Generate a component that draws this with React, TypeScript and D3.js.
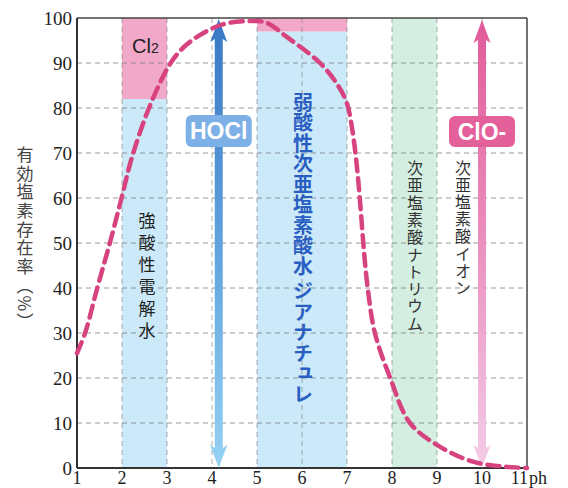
import React from "react";
import * as d3 from "d3";

// ---- data ----
const xTicks = [1, 2, 3, 4, 5, 6, 7, 8, 9, 10, 11];
const yTicks = [0, 10, 20, 30, 40, 50, 60, 70, 80, 90, 100];

const curvePh = [1, 1.18, 1.45, 1.73, 1.99, 2.22, 2.6, 3.05, 3.35, 3.73, 4.24, 4.8, 5.2, 5.66, 6.4, 6.8, 7.0, 7.12, 7.22, 7.3, 7.37, 7.46, 7.62, 7.96, 8.4, 9.07, 9.8, 10.5, 11];
const curveRate = [25.5, 30, 40, 50, 60, 69, 80, 89.5, 93.3, 96.2, 98.6, 99.3, 99.0, 95.8, 90, 85, 81, 75, 67, 58, 49, 40, 30, 20, 10, 4.7, 1.4, 0.3, 0];

// bands: [phStart, phEnd, rateBottom, rateTop, kind]
const bandStart = [2, 2, 5, 5, 8];
const bandEnd = [3, 3, 7, 7, 9];
const bandBottom = [0, 82, 0, 97, 0];
const bandTop = [82, 100, 97, 100, 100];
const bandKind = ["blue", "pink", "blue", "pink", "green"];

const hoclPh = 4.15;
const cloPh = 10;

const yTitle = "有効塩素存在率（%）";
const labelStrong = "強酸性電解水";
const labelWeak = "弱酸性次亜塩素酸水 ジアナチュレ";
const labelNa = "次亜塩素酸ナトリウム";
const labelIon = "次亜塩素酸イオン";

// ---- layout ----
const W = 568;
const H = 488;
const x = d3.scaleLinear().domain([1, 11]).range([77, 527]);
const y = d3.scaleLinear().domain([0, 100]).range([468, 18]);

const bandColors: Record<string, string> = {
  blue: "#cbe9f8",
  pink: "#f2a9c9",
  green: "#d4efe1",
};

const jp = "'Noto Sans CJK JP', 'Noto Sans', sans-serif";
const serif = "'Liberation Serif', 'DejaVu Serif', serif";
const sans = "'Liberation Sans', Arial, sans-serif";

function arrowPath(cx: number, yTop: number, yBot: number, sw: number, hw: number, hh: number) {
  const p = d3.path();
  p.moveTo(cx, yTop);
  p.lineTo(cx + hw / 2, yTop + hh);
  p.lineTo(cx + sw / 2, yTop + hh - 3);
  p.lineTo(cx + sw / 2, yBot - hh + 3);
  p.lineTo(cx + hw / 2, yBot - hh);
  p.lineTo(cx, yBot);
  p.lineTo(cx - hw / 2, yBot - hh);
  p.lineTo(cx - sw / 2, yBot - hh + 3);
  p.lineTo(cx - sw / 2, yTop + hh - 3);
  p.lineTo(cx - hw / 2, yTop + hh);
  p.closePath();
  return p.toString();
}

function VText(props: { x: number; y: number; text: string; size: number; fill: string; weight?: number; spacing?: number }) {
  return (
    <text
      x={props.x}
      y={props.y}
      fill={props.fill}
      fontFamily={jp}
      fontSize={props.size}
      fontWeight={props.weight ?? 400}
      letterSpacing={props.spacing ?? 0}
      style={{ writingMode: "vertical-rl" as any }}
    >
      {props.text}
    </text>
  );
}

export default function App() {
  const line = d3
    .line<number>()
    .x((_, i) => x(curvePh[i]))
    .y((_, i) => y(curveRate[i]))
    .curve(d3.curveCatmullRom.alpha(0.5));
  const curveD = line(curvePh) || "";

  const hoclX = x(hoclPh);
  const cloX = x(cloPh);

  return (
    <svg
      width={W}
      height={H}
      viewBox={`0 0 ${W} ${H}`}
      style={{ position: "absolute", left: 0, top: 0, background: "#fff" }}
    >
      <defs>
        <linearGradient id="gHocl" x1="0" y1="0" x2="0" y2="1">
          <stop offset="0" stopColor="#3877c4" />
          <stop offset="0.5" stopColor="#5fa3de" />
          <stop offset="1" stopColor="#95d2f3" />
        </linearGradient>
        <linearGradient id="gClo" x1="0" y1="0" x2="0" y2="1">
          <stop offset="0" stopColor="#e2599a" />
          <stop offset="0.5" stopColor="#eb90bf" />
          <stop offset="1" stopColor="#f4cde7" />
        </linearGradient>
      </defs>

      {/* bands */}
      {bandStart.map((s, i) => (
        <rect
          key={"b" + i}
          x={x(s)}
          y={y(bandTop[i])}
          width={x(bandEnd[i]) - x(s)}
          height={y(bandBottom[i]) - y(bandTop[i])}
          fill={bandColors[bandKind[i]]}
        />
      ))}

      {/* grid */}
      {yTicks.slice(1, -1).map((t) => (
        <line
          key={"gy" + t}
          x1={x(1)}
          x2={x(11)}
          y1={y(t)}
          y2={y(t)}
          stroke="#7a7a7a"
          strokeOpacity={0.75}
          strokeWidth={1}
          strokeDasharray="5,4"
        />
      ))}
      {xTicks.slice(1, -1).map((t) => (
        <line
          key={"gx" + t}
          x1={x(t)}
          x2={x(t)}
          y1={y(100)}
          y2={y(0)}
          stroke="#7a7a7a"
          strokeOpacity={0.6}
          strokeWidth={1}
          strokeDasharray="5,4"
        />
      ))}

      {/* frame */}
      <line x1={x(1)} x2={x(11)} y1={y(100)} y2={y(100)} stroke="#444" strokeWidth={1.5} />
      <line x1={x(11)} x2={x(11)} y1={y(100)} y2={y(0)} stroke="#444" strokeWidth={1.5} />
      <line x1={x(1)} x2={x(1)} y1={y(100)} y2={y(0)} stroke="#333" strokeWidth={2} />
      <line x1={x(1)} x2={x(11)} y1={y(0)} y2={y(0)} stroke="#333" strokeWidth={2} />

      {/* y tick labels */}
      {yTicks.map((t) => (
        <text
          key={"ty" + t}
          x={72}
          y={y(t)}
          textAnchor="end"
          dominantBaseline="central"
          fontFamily={serif}
          fontSize={19}
          fill="#222"
        >
          {t}
        </text>
      ))}
      {/* x tick labels */}
      {xTicks.map((t) => (
        <text
          key={"tx" + t}
          x={t === 11 ? x(t) + 1 : x(t)}
          y={484}
          textAnchor={t === 11 ? "end" : "middle"}
          fontFamily={serif}
          fontSize={18}
          fill="#222"
        >
          {t}
        </text>
      ))}
      <text x={x(11) + 2} y={484} fontFamily={serif} fontSize={18} fill="#222">
        ph
      </text>

      {/* y title */}
      <VText x={25} y={146} text={yTitle} size={17} fill="#444" spacing={1.7} />

      {/* arrows */}
      <path d={arrowPath(hoclX, y(100) + 1, y(0), 8, 17, 23)} fill="url(#gHocl)" />
      <path d={arrowPath(cloX, y(100) + 2, y(0), 8, 17, 23)} fill="url(#gClo)" />

      {/* label boxes */}
      <rect x={hoclX - 33} y={115} width={66} height={32} rx={6} fill="#7db0e6" />
      <text
        x={hoclX}
        y={131}
        textAnchor="middle"
        dominantBaseline="central"
        fontFamily={sans}
        fontWeight={700}
        fontSize={23}
        fill="#fff"
      >
        HOCl
      </text>
      <rect x={cloX - 33} y={116} width={66} height={31} rx={6} fill="#e3609b" />
      <text
        x={cloX}
        y={132}
        textAnchor="middle"
        dominantBaseline="central"
        fontFamily={sans}
        fontWeight={700}
        fontSize={23}
        fill="#fff"
      >
        ClO-
      </text>

      {/* Cl2 */}
      <text x={132} y={53} fontFamily={sans} fontSize={20} fill="#222">
        Cl<tspan fontSize={14}>2</tspan>
      </text>

      {/* vertical labels */}
      <VText x={147} y={212} text={labelStrong} size={17} fill="#222" spacing={5} />
      <VText x={303} y={92} text={labelWeak} size={20} fill="#2a5fc2" weight={700} spacing={0.5} />
      <VText x={415} y={160} text={labelNa} size={16} fill="#333" spacing={1.3} />
      <VText x={463} y={160} text={labelIon} size={16} fill="#333" spacing={1.1} />

      {/* curve */}
      <path
        d={curveD}
        fill="none"
        stroke="#d6437f"
        strokeWidth={4.5}
        strokeDasharray="12,7"
        strokeLinecap="round"
      />
    </svg>
  );
}
